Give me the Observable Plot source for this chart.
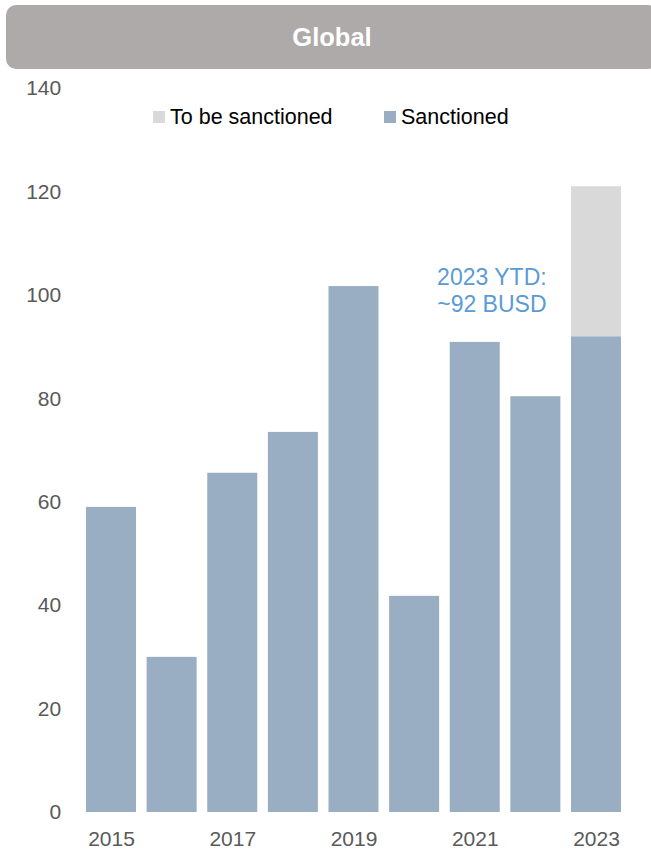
<!DOCTYPE html>
<html>
<head>
<meta charset="utf-8">
<script src="https://cdn.jsdelivr.net/npm/d3@7"></script>
<script src="https://cdn.jsdelivr.net/npm/@observablehq/plot@0.6"></script>
<style>
  html, body { margin: 0; padding: 0; background: #fff; }
  body { font-family: "Liberation Sans", Arial, sans-serif; }
  #wrap { position: relative; width: 651px; height: 852px; overflow: hidden; }
  #header {
    position: absolute; left: 6px; top: 5px; width: 652px; height: 64px;
    background: #aeaaa9; border-radius: 10px;
    color: #fff; font-weight: bold; font-size: 25.5px;
    display: flex; align-items: center; justify-content: center;
  }
  .leg { position: absolute; top: 105px; font-size: 21.5px; color: #000; display: flex; align-items: center; height: 24px; }
  .sw { width: 12px; height: 12px; margin-right: 5px; display: inline-block; }
  #chart { position: absolute; left: 0; top: 0; }
</style>
</head>
<body>
<div id="wrap">
  <div id="chart"></div>
  <div id="header">Global</div>
  <div id="legend"></div>
</div>
<script>
const years = ["2015","2016","2017","2018","2019","2020","2021","2022","2023"];
const sanctioned = [59, 30, 65.6, 73.5, 101.7, 41.8, 90.9, 80.4, 92];
const toBeSanctioned = [0, 0, 0, 0, 0, 0, 0, 0, 29];
const seriesNames = ["Sanctioned", "To be sanctioned"];
const seriesColors = ["#99aec3", "#d9d9d9"];
const xTickLabels = ["2015","2017","2019","2021","2023"];
const yTicks = [0, 20, 40, 60, 80, 100, 120, 140];
const annotationText = ["2023 YTD:\n~92 BUSD"];
const annotationX = ["2022"];
const annotationY = [101];

const rows = [];
years.forEach((yr, i) => {
  rows.push({year: yr, series: seriesNames[0], value: sanctioned[i]});
  rows.push({year: yr, series: seriesNames[1], value: toBeSanctioned[i]});
});

const chart = Plot.plot({
  width: 651,
  height: 852,
  marginTop: 88,
  marginBottom: 40,
  marginLeft: 80.7,
  marginRight: 24.7,
  style: {fontFamily: '"Liberation Sans", Arial, sans-serif', fontSize: "21px", color: "#595959", background: "transparent"},
  x: {domain: years, round: false, paddingInner: 0.175, paddingOuter: 0.0875, label: null, tickSize: 0, tickPadding: 19, ticks: xTickLabels},
  y: {domain: [0, 140], ticks: yTicks, label: null, tickSize: 0, tickPadding: 20},
  color: {domain: seriesNames, range: seriesColors},
  marks: [
    Plot.barY(rows, {x: "year", y: "value", fill: "series", order: seriesNames}),
    Plot.text(annotationText, {x: () => annotationX[0], y: () => annotationY[0], text: d => d, dx: -44, fill: "#5b9bd5", fontSize: 23, lineHeight: 1.17, textAnchor: "middle"})
  ]
});
document.getElementById("chart").appendChild(chart);

// Legend (HTML overlay)
const legend = document.getElementById("legend");
const legendItems = [
  {name: seriesNames[1], color: seriesColors[1], left: 153},
  {name: seriesNames[0], color: seriesColors[0], left: 384}
];
legendItems.forEach(it => {
  const d = document.createElement("div");
  d.className = "leg";
  d.style.left = it.left + "px";
  d.innerHTML = `<span class="sw" style="background:${it.color}"></span>${it.name}`;
  legend.appendChild(d);
});
</script>
</body>
</html>
